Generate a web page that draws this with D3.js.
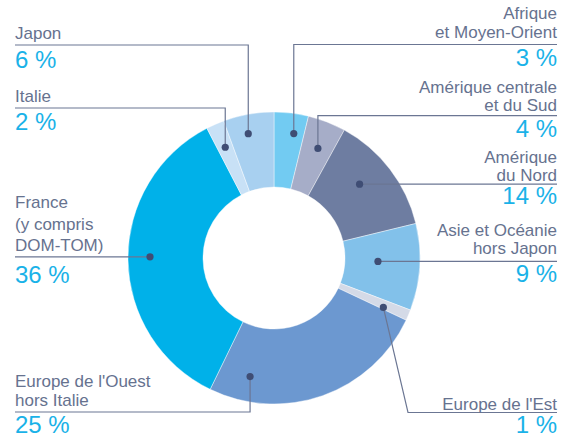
<!DOCTYPE html>
<html>
<head>
<meta charset="utf-8">
<script src="https://cdn.jsdelivr.net/npm/d3@7"></script>
<style>
  html, body { margin: 0; padding: 0; background: #fff; }
  svg { display: block; font-family: "Liberation Sans", Arial, sans-serif; }
</style>
</head>
<body>
<svg id="chart"></svg>
<script>
// regions, clockwise from 12 o'clock
const regions = ['Afrique et Moyen-Orient', 'Amérique centrale et du Sud', 'Amérique du Nord',
  'Asie et Océanie hors Japon', "Europe de l'Est", "Europe de l'Ouest hors Italie",
  'France (y compris DOM-TOM)', 'Italie', 'Japon'];
const shares = [3.8, 4.2, 13.2, 9.6, 1.2, 25.2, 35.2, 2, 5.6];
const pctLabels = ['3 %', '4 %', '14 %', '9 %', '1 %', '25 %', '36 %', '2 %', '6 %'];
const nameLines = [
  ['Afrique', 'et Moyen-Orient'],
  ['Amérique centrale', 'et du Sud'],
  ['Amérique', 'du Nord'],
  ['Asie et Océanie', 'hors Japon'],
  ["Europe de l'Est"],
  ["Europe de l'Ouest", 'hors Italie'],
  ['France', '(y compris', 'DOM-TOM)'],
  ['Italie'],
  ['Japon']
];
const colors = ['#72cbf2', '#a6adc8', '#6e7da1', '#82c1ea', '#d4dae7', '#6c98d0', '#00b1e9', '#c8e1f6', '#a8d0f0'];

const width = 565, height = 437;
const cx = 274, cy = 258, rOuter = 146, rInner = 71;

// label layout: side, first baseline, line step, leader y, percent baseline,
// leader kind (v = vertical then across, h = straight across, d = diagonal then across),
// dot position inside its slice (fraction of the angle, radius)
const layout = [
  { side: 'r', y0: 18.5, lh: 19, ly: 44.5, py: 65.5, kind: 'v', t: 0.66, r: 126 },
  { side: 'r', y0: 93, lh: 17.5, ly: 115.7, py: 137, kind: 'v', t: 0.54, r: 118 },
  { side: 'r', y0: 163, lh: 17.5, ly: null, py: 203.5, kind: 'h', t: 0.43, r: 113 },
  { side: 'r', y0: 236, lh: 17.5, ly: null, py: 282, kind: 'h', t: 0.45, r: 104 },
  { side: 'r', y0: 410, lh: 17.5, ly: 412.5, py: 432.5, kind: 'd', t: 0.8, r: 120, corner: 408 },
  { side: 'l', y0: 387, lh: 19, ly: 412, py: 433, kind: 'v', t: 0.84, r: 121 },
  { side: 'l', y0: 208.3, lh: 21.5, ly: null, py: 283, kind: 'h', t: 0.51, r: 124 },
  { side: 'l', y0: 102, lh: 19, ly: 108, py: 130, kind: 'v', t: 0.5, r: 121 },
  { side: 'l', y0: 39, lh: 19, ly: 45, py: 68, kind: 'v', t: 0.42, r: 127 }
];
const leftX = 15, rightX = 557;

const svg = d3.select('#chart').attr('width', width).attr('height', height);

const pie = d3.pie().sort(null).value(d => d.share);
const data = regions.map((name, i) => ({ name, share: shares[i], color: colors[i], i }));
const arcs = pie(data);
const arc = d3.arc().innerRadius(rInner).outerRadius(rOuter);

const g = svg.append('g').attr('transform', `translate(${cx},${cy})`);
g.selectAll('path.slice')
  .data(arcs)
  .enter().append('path')
  .attr('class', 'slice')
  .attr('d', arc)
  .attr('fill', d => d.data.color)
  .attr('stroke', '#fff')
  .attr('stroke-width', 0.6)
  .attr('stroke-opacity', 0.7);

// dot position in page coords
const dotOf = (a, L) => {
  const ang = a.startAngle + (a.endAngle - a.startAngle) * L.t;
  return [cx + L.r * Math.sin(ang), cy - L.r * Math.cos(ang)];
};

const lineCol = '#6b7693';
const labels = svg.append('g');

arcs.forEach((a, i) => {
  const L = layout[i];
  const [dx, dy] = dotOf(a, L);
  const edge = L.side === 'l' ? leftX : rightX;
  const ly = L.kind === 'h' ? dy : L.ly;
  let pts;
  if (L.kind === 'v') pts = [[dx, dy], [dx, ly], [edge, ly]];
  else if (L.kind === 'd') pts = [[dx, dy], [L.corner, ly], [edge, ly]];
  else pts = [[dx, dy], [edge, ly]];

  labels.append('path')
    .attr('d', d3.line()(pts))
    .attr('fill', 'none')
    .attr('stroke', lineCol)
    .attr('stroke-width', 1.2);

  labels.append('circle')
    .attr('cx', dx).attr('cy', dy).attr('r', 3.6)
    .attr('fill', '#3f4d74');

  const anchor = L.side === 'l' ? 'start' : 'end';
  const name = labels.append('text')
    .attr('text-anchor', anchor)
    .attr('fill', '#66728f')
    .attr('font-size', 17);
  nameLines[i].forEach((s, k) => {
    name.append('tspan').attr('x', edge).attr('y', L.y0 + k * L.lh).text(s);
  });

  labels.append('text')
    .attr('x', edge)
    .attr('y', L.py)
    .attr('text-anchor', anchor)
    .attr('fill', '#1ab2e8')
    .attr('font-size', 24)
    .text(pctLabels[i]);
});
</script>
</body>
</html>
